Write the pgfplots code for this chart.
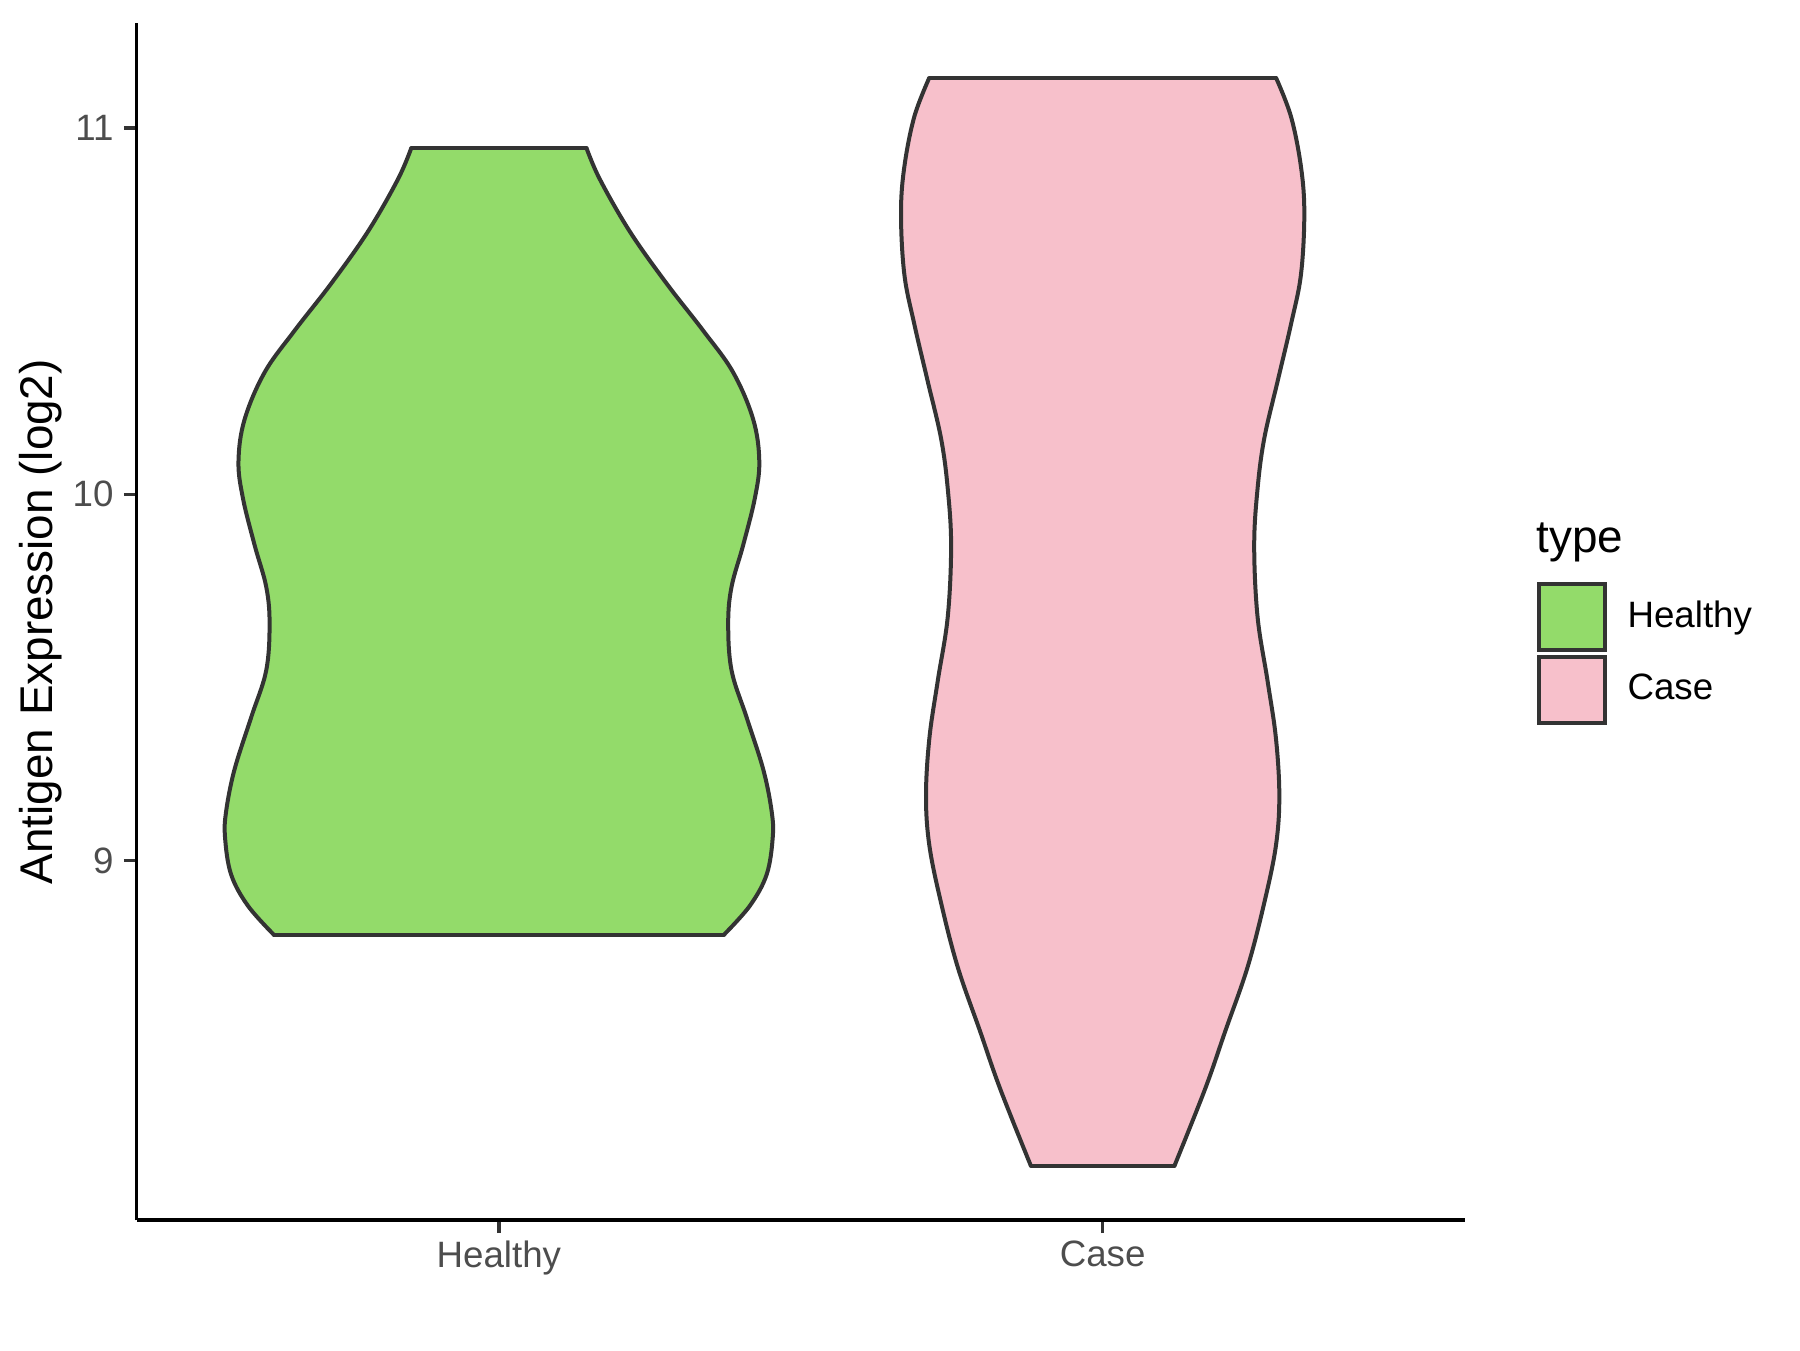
\documentclass[border=0pt]{standalone}
\usepackage{pgfplots}
\pgfplotsset{compat=1.18}
\usepackage{pgfplotstable}
\usepgfplotslibrary{fillbetween}
\usepackage{fontspec}
\setmainfont{Liberation Sans}
\definecolor{hgreen}{HTML}{93DB6A}
\definecolor{cpink}{HTML}{F7C0CB}
\definecolor{outl}{HTML}{333333}
\definecolor{ticktxt}{HTML}{4D4D4D}

\pgfplotstableread{
y hw
10.947 0.1448
10.861 0.1670
10.718 0.2167
10.576 0.2776
10.447 0.3384
10.333 0.3880
10.204 0.4213
10.090 0.4313
9.990 0.4240
9.862 0.4047
9.748 0.3854
9.648 0.3798
9.519 0.3854
9.391 0.4103
9.248 0.4380
9.134 0.4518
9.062 0.4535
8.962 0.4435
8.877 0.4158
8.798 0.3730
}\healthy

\pgfplotstableread{
y hw
11.138 0.2870
11.031 0.3120
10.894 0.3285
10.767 0.3340
10.601 0.3285
10.465 0.3120
10.309 0.2898
10.153 0.2677
10.016 0.2566
9.860 0.2510
9.665 0.2566
9.490 0.2732
9.334 0.2870
9.177 0.2926
9.041 0.2870
8.885 0.2677
8.709 0.2400
8.534 0.2030
8.378 0.1700
8.167 0.1190
}\casedata

\begin{document}
\begin{tikzpicture}
\begin{axis}[
  set layers,
  clip=false,
  width=332pt, height=299.25pt, scale only axis,
  xmin=0.4, xmax=2.6, ymin=8.018, ymax=11.287,
  axis x line=bottom, axis y line=left,
  axis line style={-, black, line width=0.9pt},
  xtick={1,2}, xticklabels={Healthy,Case},
  ytick={9,10,11}, yticklabels={9,10,11},
  minor tick num=0,
  tick align=outside, major tick length=3.2pt,
  tick style={outl, line width=0.9pt},
  ticklabel style={font=\fontsize{9.17}{11}\selectfont, text=ticktxt},
  yticklabel style={inner sep=0pt, xshift=-2.4pt},
  xticklabel style={inner sep=0pt, yshift=-1.85pt},
  ylabel={Antigen Expression (log2)},
  ylabel style={font=\fontsize{11.46}{13}\selectfont, at={(axis description cs:-0.072,0.5)}, anchor=center},
  legend style={at={(axis description cs:1.0535,0.534)}, anchor=north west, draw=none, fill=none,
    inner sep=0pt, row sep=0.75pt, column sep=3.2pt, font=\fontsize{9.17}{11}\selectfont},
  legend cell align=left,
  legend image code/.code={\draw[#1] (0pt,-8.25pt) rectangle (16.5pt,8.25pt);},
]
\addlegendimage{fill=hgreen, draw=outl, line width=1pt}
\addlegendentry{Healthy}
\addlegendimage{fill=cpink, draw=outl, line width=1pt}
\addlegendentry{Case}

% Healthy violin
\addplot[name path=HR, draw=outl, line width=1pt, smooth, tension=0.6, forget plot]
  table[x expr=1+\thisrow{hw}, y=y]{\healthy};
\addplot[name path=HL, draw=outl, line width=1pt, smooth, tension=0.6, forget plot]
  table[x expr=1-\thisrow{hw}, y=y]{\healthy};
\addplot[fill=hgreen, draw=none, forget plot] fill between[of=HR and HL, reverse=true];
\addplot[draw=outl, line width=1pt, line cap=round, forget plot] coordinates {(0.8552,10.947) (1.1448,10.947)};
\addplot[draw=outl, line width=1pt, line cap=round, forget plot] coordinates {(0.627,8.798) (1.373,8.798)};

% Case violin
\addplot[name path=CR, draw=outl, line width=1pt, smooth, tension=0.6, forget plot]
  table[x expr=2+\thisrow{hw}, y=y]{\casedata};
\addplot[name path=CL, draw=outl, line width=1pt, smooth, tension=0.6, forget plot]
  table[x expr=2-\thisrow{hw}, y=y]{\casedata};
\addplot[fill=cpink, draw=none, forget plot] fill between[of=CR and CL, reverse=true];
\addplot[draw=outl, line width=1pt, line cap=round, forget plot] coordinates {(1.713,11.138) (2.287,11.138)};
\addplot[draw=outl, line width=1pt, line cap=round, forget plot] coordinates {(1.881,8.167) (2.119,8.167)};

\node[anchor=west, inner sep=0pt, font=\fontsize{11.46}{13}\selectfont] at (axis description cs:1.0535,0.566) {type};
\end{axis}
\path (current axis.south west) ++(-34.15pt,-32.5pt);
\path (current axis.north east) ++(83.75pt,5.75pt);
\end{tikzpicture}
\end{document}
